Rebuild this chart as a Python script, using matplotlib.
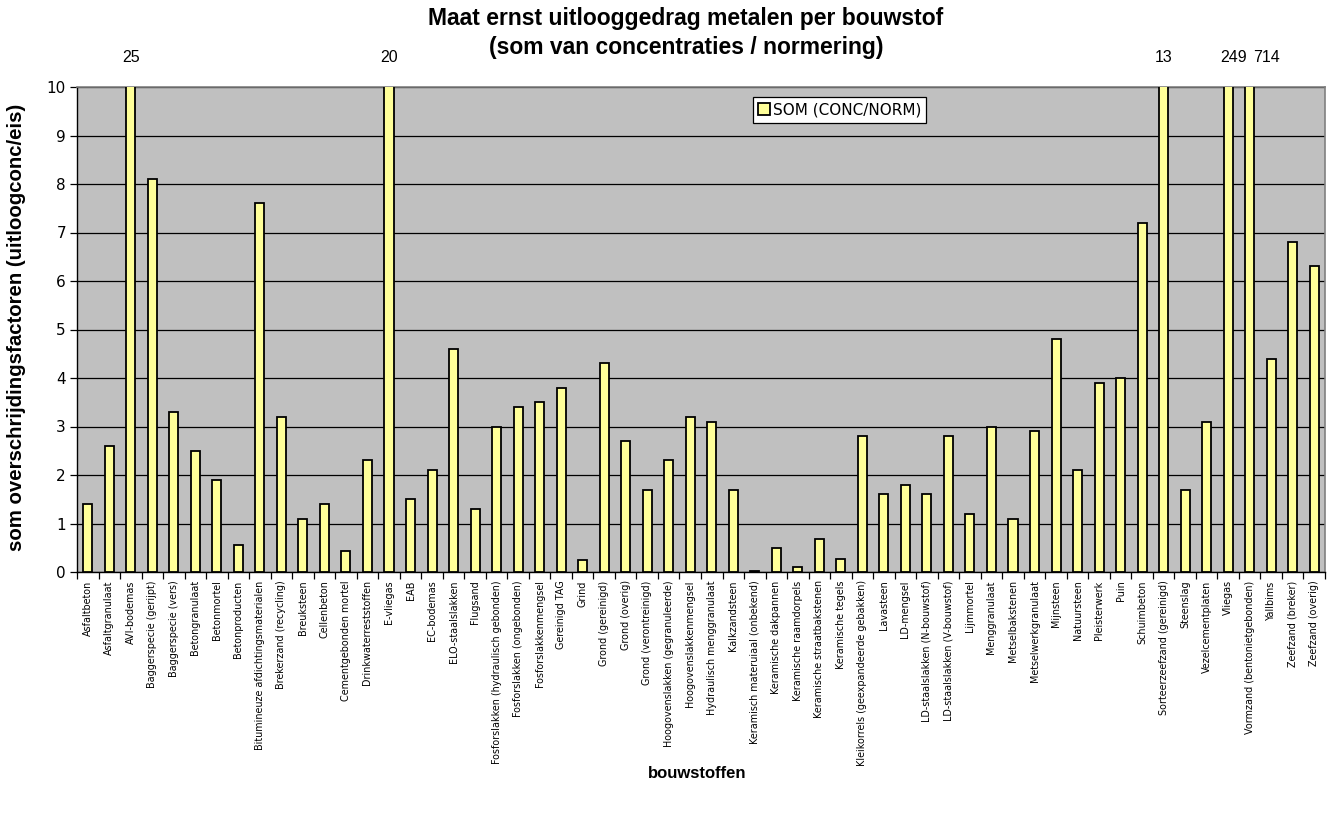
import matplotlib
matplotlib.use("Agg")
import matplotlib.pyplot as plt
import matplotlib.transforms as mtransforms
import numpy as np

categories = [
    "Asfaltbeton", "Asfaltgranulaat", "AVI-bodemas", "Baggerspecie (gerijpt)",
    "Baggerspecie (vers)", "Betongranulaat", "Betonmortel", "Betonproducten",
    "Bitumineuze afdichtingsmaterialen", "Brekerzand (recycling)", "Breuksteen",
    "Cellenbeton", "Cementgebonden mortel", "Drinkwaterreststoffen", "E-vliegas",
    "EAB", "EC-bodemas", "ELO-staalslakken", "Flugsand",
    "Fosforslakken (hydraulisch gebonden)", "Fosforslakken (ongebonden)",
    "Fosforslakkenmengsel", "Gereinigd TAG", "Grind", "Grond (gereinigd)",
    "Grond (overig)", "Grond (verontreinigd)", "Hoogovenslakken (gegranuleerde)",
    "Hoogovenslakkenmengsel", "Hydraulisch menggranulaat", "Kalkzandsteen",
    "Keramisch materuiaal (onbekend)", "Keramische dakpannen",
    "Keramische raamdorpels", "Keramische straatbakstenen", "Keramische tegels",
    "Kleikorrels (geexpandeerde gebakken)", "Lavasteen", "LD-mengsel",
    "LD-staalslakken (N-bouwstof)", "LD-staalslakken (V-bouwstof)", "Lijmmortel",
    "Menggranulaat", "Metselbakstenen", "Metselwerkgranulaat", "Mijnsteen",
    "Natuursteen", "Pleisterwerk", "Puin", "Schuimbeton",
    "Sorteerzeefzand (gereinigd)", "Steenslag", "Vezelcementplaten", "Vliegas",
    "Vormzand (bentonietgebonden)", "Yallbims", "Zeefzand (breker)",
    "Zeefzand (overig)",
]

som_conc_norm = [
    1.4, 2.6, 25, 8.1, 3.3, 2.5, 1.9, 0.56, 7.6, 3.2, 1.1, 1.4, 0.43, 2.3, 20,
    1.5, 2.1, 4.6, 1.3, 3.0, 3.4, 3.5, 3.8, 0.24, 4.3, 2.7, 1.7, 2.3, 3.2, 3.1,
    1.7, 0.03, 0.49, 0.11, 0.68, 0.26, 2.8, 1.6, 1.8, 1.6, 2.8, 1.2, 3.0, 1.1,
    2.9, 4.8, 2.1, 3.9, 4.0, 7.2, 13, 1.7, 3.1, 249, 714, 4.4, 6.8, 6.3,
]

y_max = 10
y_ticks = list(range(0, 11))

title = "Maat ernst uitlooggedrag metalen per bouwstof\n(som van concentraties / normering)"
ylabel = "som overschrijdingsfactoren (uitloogconc/eis)"
xlabel = "bouwstoffen"
legend_label = "SOM (CONC/NORM)"

plt.rcParams["font.family"] = ["Liberation Sans", "DejaVu Sans"]

fig = plt.figure(figsize=(13.32, 8.15), dpi=100)
fig.patch.set_facecolor("white")
ax = fig.add_axes([77 / 1332, 1 - 572 / 815, 1248 / 1332, 485 / 815])
ax.set_facecolor("#C0C0C0")

x = np.arange(len(categories))
ax.bar(x, som_conc_norm, width=0.42, color="#FFFF99", edgecolor="black",
       linewidth=1.3, label=legend_label, zorder=3)

ax.set_xlim(-0.5, len(categories) - 0.5)
ax.set_ylim(0, y_max)
ax.set_yticks(y_ticks)
ax.yaxis.grid(True, color="black", linewidth=0.9, zorder=1)
ax.set_axisbelow(True)

# x ticks: labels at centres, tick marks at category boundaries
ax.set_xticks(x)
ax.set_xticklabels(categories, rotation=90, fontsize=6.9,
                   family=["DejaVu Sans"], va="top", ha="center")
ax.tick_params(axis="x", which="major", length=0, pad=6)
ax.set_xticks(np.arange(-0.5, len(categories)), minor=True)
ax.tick_params(axis="x", which="minor", length=5, width=0.9, direction="out")
ax.tick_params(axis="y", length=5, width=0.9, direction="out", labelsize=11, pad=3)
for lab in ax.get_yticklabels():
    lab.set_family(["DejaVu Sans"])

for side in ("top", "right"):
    ax.spines[side].set_color("#808080")
    ax.spines[side].set_linewidth(1.2)
for side in ("left", "bottom"):
    ax.spines[side].set_color("black")
    ax.spines[side].set_linewidth(1.0)

# labels for bars exceeding the axis (shifted right when neighbours collide)
trans = mtransforms.blended_transform_factory(ax.transData, ax.transAxes)
over = [(xi, v) for xi, v in zip(x, som_conc_norm) if v > y_max]
for k, (xi, v) in enumerate(over):
    dx = 0
    if k + 1 < len(over) and over[k + 1][0] - xi == 1:
        dx = 4
    if k > 0 and xi - over[k - 1][0] == 1:
        dx = 12
    ax.annotate(f"{v:g}", xy=(xi, 1.06), xycoords=trans, xytext=(dx, 0),
                textcoords="offset points", ha="center", va="center",
                fontsize=11.5)

fig.text(686 / 1332, 1 - 33 / 815, title, ha="center", va="center",
         fontsize=16.5, fontweight="bold", linespacing=1.3)
fig.text(17 / 1332, 1 - 327 / 815, ylabel, rotation=90, ha="center",
         va="center", fontsize=14.7, fontweight="bold")
fig.text(697 / 1332, 1 - 773 / 815, xlabel, ha="center", va="center",
         fontsize=12, fontweight="bold")

leg = ax.legend(loc="center", bbox_to_anchor=(0.611, 0.953), fontsize=11,
                frameon=True, fancybox=False, framealpha=1, edgecolor="black",
                handlelength=0.75, handleheight=0.75, handletextpad=0.2,
                borderpad=0.35, borderaxespad=0)
leg.get_frame().set_linewidth(0.9)
for t in leg.get_texts():
    t.set_family(["DejaVu Sans"])

fig.savefig("out.png", dpi=100)
